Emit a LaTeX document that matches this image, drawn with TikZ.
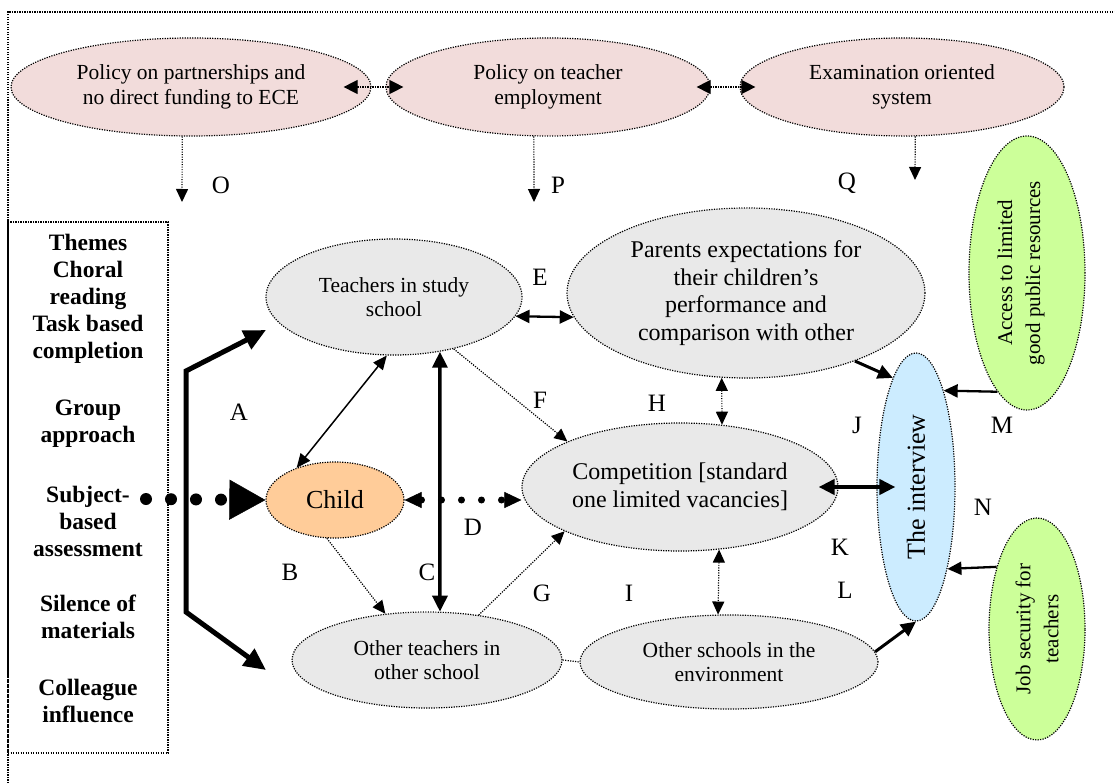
\documentclass[tikz,border=0pt]{standalone}
\usepackage{fontspec}
\setmainfont{Liberation Serif}
\usetikzlibrary{shapes.geometric,arrows.meta}
\definecolor{pinkfill}{RGB}{242,220,219}
\definecolor{greyfill}{RGB}{233,233,233}
\definecolor{childfill}{RGB}{255,204,153}
\definecolor{bluefill}{RGB}{204,236,255}
\definecolor{greenfill}{RGB}{204,255,153}

\begin{document}
\begin{tikzpicture}[x=1pt,y=-1pt]
            \tikzset{dotline/.style = {line width=1.2pt, dash pattern=on 1.2pt off 1.3pt}}
            \tikzset{ell/.style = {ellipse, draw=black, dotline, inner sep=0pt, align=center, font=\fontsize{21.5}{24.5}\selectfont}}
            \tikzset{pinkell/.style = {ell, fill=pinkfill, minimum height=98}}
            \tikzset{greyell/.style = {ell, fill=greyfill}}
            \tikzset{greenell/.style = {ell, fill=greenfill}}
            \tikzset{lbl/.style = {inner sep=0pt, font=\fontsize{25}{30}\selectfont}}
            \tikzset{boxtext/.style = {align=center, inner sep=0pt, font=\fontsize{23.5}{27}\selectfont\bfseries}}
            \tikzset{rottext/.style = {rotate=90, align=center, inner sep=0pt, font=\fontsize{21}{28}\selectfont}}
            \tikzset{dotarr/.style = {dotline, -{Triangle[length=13pt,width=12pt]}}}
            \tikzset{dotboth/.style = {dotline, {Triangle[length=13pt,width=12pt]}-{Triangle[length=13pt,width=12pt]}}}
            \tikzset{thinboth/.style = {line width=1.5pt, {Triangle[length=14pt,width=12pt]}-{Triangle[length=14pt,width=12pt]}}}
            \tikzset{medarr/.style = {line width=2.3pt, -{Triangle[length=14pt,width=13pt]}}}
            \tikzset{medboth/.style = {line width=2.3pt, {Triangle[length=14pt,width=13pt]}-{Triangle[length=14pt,width=13pt]}}}
            \tikzset{boldarr/.style = {line width=3pt, -{Triangle[length=15pt,width=14pt]}}}
            \tikzset{boldboth/.style = {line width=3.5pt, {Triangle[length=16pt,width=15pt]}-{Triangle[length=16pt,width=15pt]}}}
            \tikzset{widearr/.style = {line width=5pt, line join=miter, {Triangle[length=22pt,width=20pt]}-{Triangle[length=22pt,width=20pt]}}}
            \tikzset{dotsboth/.style = {line width=7pt, line cap=round, dash pattern=on 0pt off 20pt, {Triangle[length=17pt,width=16pt,line width=0.5pt]}-{Triangle[length=17pt,width=16pt,line width=0.5pt]}}}
            \tikzset{bigdots/.style = {line width=12pt, line cap=round, dash pattern=on 0pt off 25pt, -{Triangle[length=36pt,width=40pt,line width=0.5pt]}}}

            \useasboundingbox (0,0) rectangle (1115,783);
            \draw[dotline] (8,783)--(8,12)--(1115,12);

            \node[pinkell, minimum width=360] (PolPart) at (191,87) {Policy on partnerships and\\no direct funding to ECE};
            \node[pinkell, minimum width=324] (PolTeach) at (548,87) {Policy on teacher\\employment};
            \node[pinkell, minimum width=324] (ExamSys) at (902,87) {Examination oriented\\system};

            \node[draw, dotline, minimum width=160, minimum height=531, inner sep=0pt] (Box) at (88,487.5) {};
            \node[boxtext] (grpThemes) at (88,299) {Themes\\Choral\\reading\\Task based\\completion};
            \node[boxtext] (grpGroup) at (88,424) {Group\\approach};
            \node[boxtext] (grpSubject) at (88,521.5) {Subject-\\based\\assessment};
            \node[boxtext] (grpSilence) at (88,617) {Silence of\\materials};
            \node[boxtext] (grpColleague) at (88,700.5) {Colleague\\influence};

            \node[greyell, minimum width=256, minimum height=116] (Teachers) at (394,297) {Teachers in study\\school};
            \node[greyell, minimum width=358, minimum height=170, font=\fontsize{24}{27.5}\selectfont] (Parents) at (746,293) {Parents expectations for\\their children’s\\performance and\\comparison with other};
            \node[ell, fill=childfill, minimum width=138, minimum height=76, font=\fontsize{26}{30}\selectfont] (Child) at (335,500) {Child};
            \node[greyell, minimum width=316, minimum height=128, font=\fontsize{24}{27.5}\selectfont] (Compet) at (680,487) {Competition [standard\\one limited vacancies]};
            \node[greyell, minimum width=270, minimum height=96] (OthTeach) at (427,660) {Other teachers in\\other school};
            \node[greyell, minimum width=298, minimum height=94] (OthSchool) at (729,662) {Other schools in the\\environment};

            \node[ell, fill=bluefill, minimum width=78, minimum height=268] (Interview) at (916,487) {};
            \node[rottext, font=\fontsize{26}{30}\selectfont] (InterviewText) at (Interview.center) {The interview};
            \node[greenell, minimum width=116, minimum height=274] (Access) at (1027,273) {};
            \node[rottext] (AccessText) at (1021,273) {Access to limited\\good public resources};
            \node[greenell, minimum width=96, minimum height=222] (JobSec) at (1037,629) {};
            \node[rottext] (JobSecText) at (1037,629) {Job security for\\teachers};

            \node[lbl] (lA) at (239,412) {A};
            \node[lbl] (lB) at (290,572) {B};
            \node[lbl] (lC) at (427,572) {C};
            \node[lbl] (lD) at (473,527) {D};
            \node[lbl] (lE) at (540,277) {E};
            \node[lbl] (lF) at (540,400) {F};
            \node[lbl] (lG) at (542,593) {G};
            \node[lbl] (lH) at (657,403) {H};
            \node[lbl] (lI) at (629,593) {I};
            \node[lbl] (lJ) at (857,425) {J};
            \node[lbl] (lK) at (840,547) {K};
            \node[lbl] (lL) at (845,590) {L};
            \node[lbl] (lM) at (1002,425) {M};
            \node[lbl] (lN) at (983,507) {N};
            \node[lbl] (lO) at (221,185) {O};
            \node[lbl] (lP) at (558,185) {P};
            \node[lbl] (lQ) at (847,183) {Q};

            \coordinate (Oend) at (182,202);
            \coordinate (Pend) at (534,202);
            \coordinate (Qend) at (915,180);
            \coordinate (SubjStart) at (146,499);
            \coordinate (Atop) at (266,330);
            \coordinate (Acorn1) at (186,371);
            \coordinate (Acorn2) at (186,612);
            \coordinate (Abot) at (266,670);

            \draw[dotboth, {Triangle[length=14pt,width=14pt]}-{Triangle[length=14pt,width=14pt]}] ([xshift=-28pt]PolPart.east)--([xshift=18pt]PolTeach.west);
            \draw[dotboth, {Triangle[length=14pt,width=14pt]}-{Triangle[length=14pt,width=14pt]}] ([xshift=-14pt]PolTeach.east)--([xshift=16pt]ExamSys.west);
            \draw[dotarr] (PolPart.-100)--(Oend);
            \draw[dotarr] (PolTeach.-106)--(Pend);
            \draw[dotarr] (ExamSys.-75)--(Qend);

            \draw[bigdots] (SubjStart)--(Child.west);
            \draw[widearr] (Atop)--(Acorn1)--(Acorn2)--(Abot);

            \draw[thinboth] (Teachers.-97)--(Child.140);
            \draw[boldboth] (Teachers.-50)--(OthTeach.75);
            \draw[medboth] (Teachers.-9)--(Parents.188);
            \draw[dotarr] (Teachers.-41)--(Compet.158);
            \draw[dotsboth] (Child.east)--(Compet.west |- Child.east);
            \draw[dotarr] (Child.-102)--(OthTeach.132);
            \draw[dotarr] (OthTeach.41)--(Compet.201);
            \draw[dotline] (OthTeach.east)--(OthSchool.west);
            \draw[dotboth] (Parents.-106)--(Compet.56);
            \draw[dotboth] (Compet.-58)--(OthSchool.103);

            \draw[boldarr] (Parents.-32)--(Interview.102);
            \draw[boldboth, line width=4pt] ([xshift=-20pt]Compet.east)--([xshift=19pt]Interview.west);
            \draw[boldarr] (OthSchool.4)--(Interview.south);
            \draw[medarr] (Access.256)--(Interview.74);
            \draw[medarr] (JobSec.123)--(Interview.-69);

        \end{tikzpicture}
\end{document}
